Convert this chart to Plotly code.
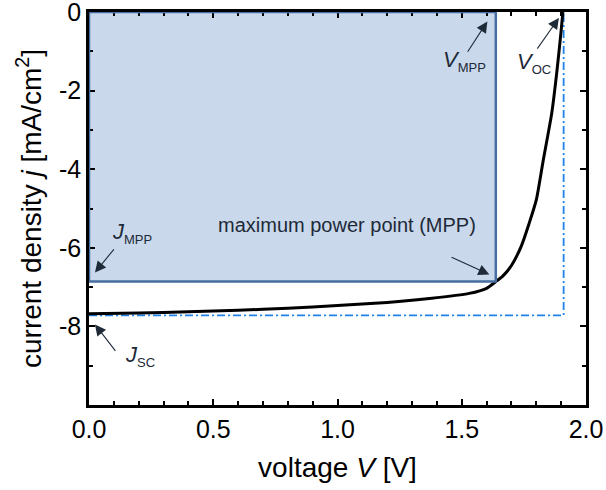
import plotly.graph_objects as go

# J-V curve data
voltage = [0.0, 0.2, 0.4, 0.6, 0.8, 1.0, 1.2, 1.37, 1.53, 1.60, 1.637, 1.665,
           1.70, 1.74, 1.77, 1.80, 1.828, 1.862, 1.882, 1.899, 1.907]
current = [-7.68, -7.66, -7.63, -7.59, -7.54, -7.47, -7.39, -7.29, -7.16, -7.03,
           -6.86, -6.72, -6.45, -5.95, -5.40, -4.78, -3.77, -2.58, -1.56, -0.54, 0.0]

v_mpp = 1.637
j_mpp = -6.86
v_oc = 1.91
j_sc = -7.72

x_tick_vals = [0.0, 0.5, 1.0, 1.5, 2.0]
x_tick_labels = ["0.0", "0.5", "1.0", "1.5", "2.0"]
y_tick_vals = [0, -2, -4, -6, -8]
y_tick_labels = ["0", "-2", "-4", "-6", "-8"]

FONT = "Liberation Sans, Arial, sans-serif"
TXT = "#1e2a38"

fig = go.Figure()

# ideal rectangle (Voc x Jsc), dash-dot
fig.add_trace(go.Scatter(
    x=[0, v_oc, v_oc], y=[j_sc, j_sc, 0], mode="lines",
    line=dict(color="#1e84ec", width=1.8, dash="8px,3px,2px,3px"),
    hoverinfo="skip", showlegend=False))

# J-V curve
fig.add_trace(go.Scatter(
    x=voltage, y=current, mode="lines",
    line=dict(color="black", width=3, shape="spline", smoothing=0.6),
    showlegend=False))

shapes = [
    dict(type="rect", xref="x", yref="y", x0=0, x1=v_mpp, y0=j_mpp, y1=0,
         fillcolor="#c9d8eb", line=dict(width=0), layer="below"),
    dict(type="rect", xref="x", yref="y", x0=0, x1=v_mpp, y0=j_mpp, y1=0,
         fillcolor="rgba(0,0,0,0)", line=dict(color="#466ea0", width=2.5), layer="above"),
]

annotations = []

def arrow(x, y, ax, ay):
    annotations.append(dict(
        x=x, y=y, ax=ax, ay=ay, xref="x", yref="y", axref="x", ayref="y",
        text="", showarrow=True, arrowhead=2, arrowsize=2, arrowwidth=1.1,
        arrowcolor=TXT, standoff=0, startstandoff=0))

def label(x, y, text, size):
    annotations.append(dict(
        x=x, y=y, xref="x", yref="y", text=text, showarrow=False,
        font=dict(family=FONT, size=size, color=TXT)))

def sub_label(x, y, main, sub):
    label(x, y, "<i>%s</i><sub><span style='font-size:13px'>%s</span></sub>" % (main, sub), 22)

arrow(1.603, -0.24, 1.52, -1.05)
arrow(1.891, -0.15, 1.80, -0.97)
arrow(0.024, -6.63, 0.105, -6.0)
arrow(1.611, -6.68, 1.453, -6.22)
arrow(0.024, -7.95, 0.111, -8.66)

sub_label(1.51, -1.25, "V", "MPP")
sub_label(1.79, -1.30, "V", "OC")
label(1.038, -5.41, "maximum power point (MPP)", 20)
sub_label(0.175, -5.62, "J", "MPP")
sub_label(0.205, -8.75, "J", "SC")

axis_common = dict(
    showline=True, linecolor="black", linewidth=2.5, mirror="ticks",
    ticks="inside", ticklen=6, tickwidth=2, tickcolor="black",
    showgrid=False, zeroline=False, automargin=False,
    ticklabeloverflow="allow",
    tickfont=dict(family=FONT, size=25, color="black"),
)

fig.update_layout(
    width=606, height=490,
    margin=dict(l=89, r=20, t=12, b=85),
    paper_bgcolor="white", plot_bgcolor="white",
    shapes=shapes, annotations=annotations,
    xaxis=dict(range=[0, 2.0], tickvals=x_tick_vals, ticktext=x_tick_labels,
               minor=dict(dtick=0.1, ticks="inside", ticklen=4, tickwidth=2, tickcolor="black"),
               title=dict(text="voltage <i>V</i> [V]", font=dict(family=FONT, size=28, color="black"),
                          standoff=16),
               **axis_common),
    yaxis=dict(range=[-10, 0], tickvals=y_tick_vals, ticktext=y_tick_labels,
               minor=dict(dtick=1, ticks="inside", ticklen=4, tickwidth=2, tickcolor="black"),
               title=dict(text="current density <i>j</i> [mA/cm<sup>2</sup>]",
                          font=dict(family=FONT, size=28, color="black"), standoff=10),
               **axis_common),
)

fig.write_html("out.html",
               config={"displayModeBar": False},
               post_script="document.body.style.margin='0';document.body.style.overflow='hidden';")
